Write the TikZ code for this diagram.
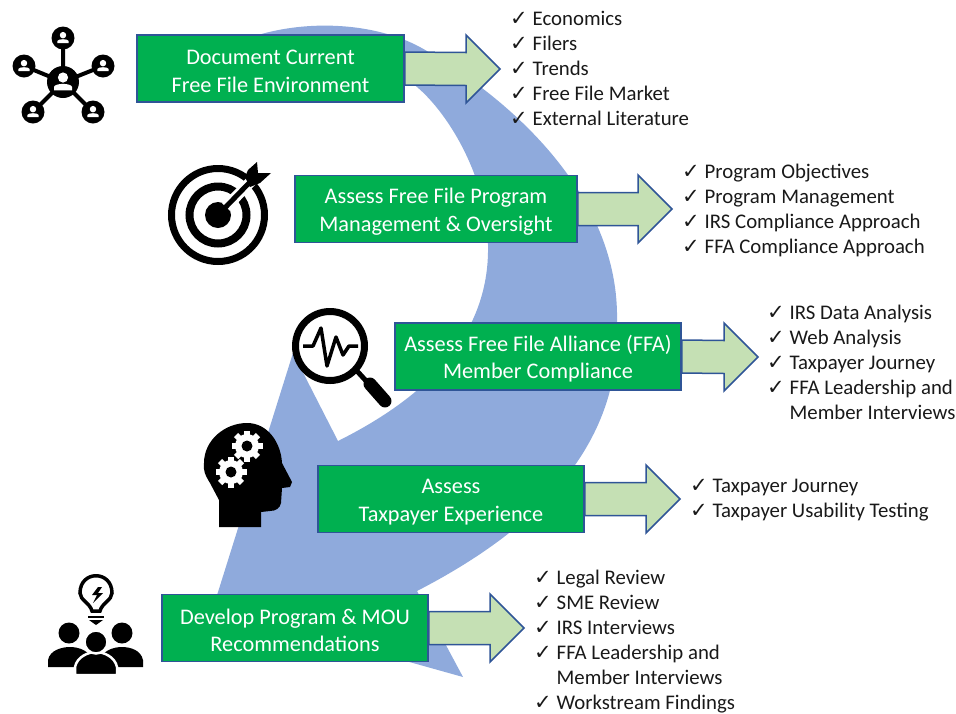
\documentclass[tikz,border=0pt]{standalone}
\usepackage{fontspec}
\setmainfont{Carlito}
\newfontfamily\checkfont{DejaVu Sans}
\usetikzlibrary{calc}

\definecolor{swooshblue}{HTML}{8FAADC}
\definecolor{boxgreen}{HTML}{00B050}
\definecolor{edgeblue}{HTML}{2F5597}
\definecolor{arrowgreen}{HTML}{C5E0B4}

\newcommand{\ck}{\makebox[22.5pt][l]{\checkfont\fontsize{21}{25}\selectfont\char"2713}}
\newcommand{\nock}{\hspace*{22.5pt}}
\newcommand{\lift}{\rule{0pt}{20.5pt}}

\tikzset{
	stagebox/.style={draw=edgeblue, fill=boxgreen, line width=1.7pt, text=white, align=center,
		minimum height=67pt, inner sep=0pt, font=\fontsize{22.3}{27.5}\selectfont},
	blockarrow/.style={draw=edgeblue, fill=arrowgreen, line width=1.5pt, line join=miter,
		to path={($(\tikztostart.east)+(0,-16.5)$) -- ($(\tikztotarget)+(-34,-16.5)$) -- ++(0,-17.5)
			-- (\tikztotarget) -- ++(-34,34) -- ++(0,-17.5) -- ($(\tikztostart.east)+(0,16.5)$) -- cycle}},
	checklist/.style={anchor=north west, inner sep=0pt, align=left, text=black!90,
		font=\fontsize{20.8}{25}\selectfont},
	netperson/.pic={
		\fill[white] (0,-0.3) circle (0.34);
		\fill[white] (-0.6,0.55) -- (-0.6,0.32) .. controls (-0.5,0.06) and (0.5,0.06) .. (0.6,0.32) -- (0.6,0.55) -- cycle;
	},
	gearwheel/.pic={
		\fill[white] (0,0) circle (12);
		\foreach \a in {0,45,...,315}
			\draw[white, line width=6pt] (\a:9) -- (\a:15.5);
		\fill[black] (0,0) circle (5.5);
	}
}

\begin{document}
\begin{tikzpicture}[x=1pt, y=-1pt]
	\useasboundingbox (0,0) rectangle (956,713);

	% big curved band behind the boxes
	\fill[swooshblue] (225,48) .. controls (290,15) and (380,20) .. (430,53)
		.. controls (510,100) and (620,195) .. (617,322)
		.. controls (622,440) and (545,525) .. (417,591)
		-- (463,677) -- (413,663) -- (213,608) -- (293,353) -- (338,441)
		.. controls (420,400) and (490,340) .. (488,245)
		.. controls (488,180) and (450,115) .. (417,87)
		.. controls (370,50) and (290,30) .. (225,48) -- cycle;

	\node[stagebox, minimum width=267pt] (doc) at (270.5,68.5) {\lift Document Current\\Free File Environment};
	\node[stagebox, minimum width=282pt] (mgmt) at (436,209) {\lift Assess Free File Program\\Management \& Oversight};
	\node[stagebox, minimum width=286pt] (ffa) at (538,356.5) {\lift Assess Free File Alliance (FFA)\\Member Compliance};
	\node[stagebox, minimum width=266pt] (exper) at (451,499) {\lift Assess\\Taxpayer Experience};
	\node[stagebox, minimum width=266pt] (recs) at (295,628) {\lift Develop Program \& MOU\\Recommendations};

	\coordinate (docT) at (500,69);
	\coordinate (mgmtT) at (672,209);
	\coordinate (ffaT) at (758,357);
	\coordinate (experT) at (680,499);
	\coordinate (recsT) at (524,628);
	\draw[blockarrow] (doc) to (docT);
	\draw[blockarrow] (mgmt) to (mgmtT);
	\draw[blockarrow] (ffa) to (ffaT);
	\draw[blockarrow] (exper) to (experT);
	\draw[blockarrow] (recs) to (recsT);

	\node[checklist] (docL) at (510,11) {\ck Economics\\\ck Filers\\\ck Trends\\\ck Free File Market\\\ck External Literature};
	\node[checklist] (mgmtL) at (682,164) {\ck Program Objectives\\\ck Program Management\\\ck IRS Compliance Approach\\\ck FFA Compliance Approach};
	\node[checklist] (ffaL) at (767,305) {\ck IRS Data Analysis\\\ck Web Analysis\\\ck Taxpayer Journey\\\ck FFA Leadership and\\\nock Member Interviews};
	\node[checklist] (experL) at (690,479) {\ck Taxpayer Journey\\\ck Taxpayer Usability Testing};
	\node[checklist] (recsL) at (534,570) {\ck Legal Review\\\ck SME Review\\\ck IRS Interviews\\\ck FFA Leadership and\\\nock Member Interviews\\\ck Workstream Findings};

	% network icon
	\draw[line width=4pt] (63,82) -- (63,38) (63,82) -- (24,66) (63,82) -- (103,66) (63,82) -- (33,112) (63,82) -- (93,112);
	\fill (63,82) circle (16);
	\fill (63,38) circle (11.5);
	\fill (24,66) circle (11.5);
	\fill (103,66) circle (11.5);
	\fill (33,112) circle (11.5);
	\fill (93,112) circle (11.5);
	\pic[scale=15] at (63,82) {netperson};
	\pic[scale=9.5] at (63,38) {netperson};
	\pic[scale=9.5] at (24,66) {netperson};
	\pic[scale=9.5] at (103,66) {netperson};
	\pic[scale=9.5] at (33,112) {netperson};
	\pic[scale=9.5] at (93,112) {netperson};

	% target icon
	\draw[line width=7pt] (218,215) circle (46.5);
	\draw[line width=8pt] (218,215) circle (28.5);
	\fill (218,215) circle (13);
	\draw[white, line width=11pt] (226,207) -- (264,168);
	\draw[line width=5pt] (218,215) -- (250,182);
	\fill (248,170) -- (257,162) -- (258,173) -- (271,173) -- (260,183) -- (250,187) -- (245,177) -- cycle;

	% head with gears
	\fill (219,527) -- (219,500) -- (210,483) .. controls (205,475) and (203,470) .. (204,463) .. controls (204,440) and (225,423) .. (247,423)
		.. controls (268,423) and (281,443) .. (282,463) -- (292,482) -- (290,487) -- (282,488) -- (281,503) .. controls (280,508) and (276,511) .. (270,511)
		-- (261,512) -- (261,527) -- cycle;
	\pic at (247,446) {gearwheel};
	\pic at (231,472) {gearwheel};

	% magnifier icon
	\draw[line width=7pt, fill=white] (330,346) circle (34.5);
	\draw[line width=5pt] (357,371) -- (368,383);
	\draw[line width=13pt, line cap=round] (370,384) -- (385,401);
	\draw[line width=3.5pt, line join=round] (303,346) -- (313,346) -- (321,328) -- (327,366) -- (336,337) -- (343,355) -- (349,346) -- (358,346);

	% bulb and people icon
	\draw[line width=3.5pt] (92,611) .. controls (90,603) and (80,600) .. (80,593) .. controls (80,570) and (112,570) .. (112,593) .. controls (112,600) and (102,603) .. (100,611) -- cycle;
	\draw[line width=2.5pt] (88,617) -- (104,617);
	\fill (89,620) -- (103,620) -- (96,625) -- cycle;
	\fill (98,587) -- (92,595) -- (97,595) -- (93,603) -- (103,593) -- (98,593) -- (102,587) -- cycle;
	\fill (69,633) circle (10.5);
	\fill (122,633) circle (10.5);
	\fill (48,667) -- (48,660) .. controls (50,650) and (62,647) .. (70,647) .. controls (78,647) and (92,650) .. (96,667) -- cycle;
	\fill (143,667) -- (143,660) .. controls (141,650) and (130,647) .. (122,647) .. controls (114,647) and (100,650) .. (96,667) -- cycle;
	\fill[draw=white, line width=2.5pt] (75,675) -- (75,667) .. controls (77,657) and (88,652) .. (96,652) .. controls (104,652) and (115,657) .. (117,667) -- (117,675) -- cycle;
	\fill[draw=white, line width=2.5pt] (96,642) circle (11.5);
\end{tikzpicture}
\end{document}
